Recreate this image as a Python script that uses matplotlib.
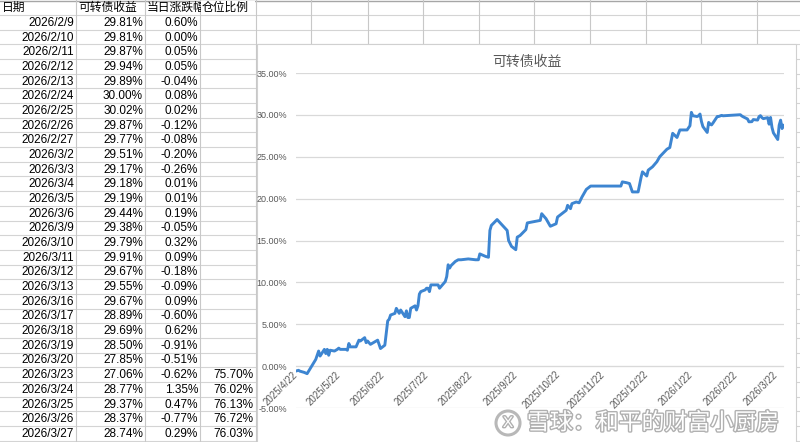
import matplotlib
matplotlib.use('Agg')
import matplotlib.pyplot as plt
import matplotlib.patheffects as pe
from matplotlib.patches import Rectangle, Ellipse
from matplotlib.ticker import FuncFormatter
import pandas as pd

W, H = 800, 442

# sheet rows (left table)
tbl_dates = ['2026/2/9', '2026/2/10', '2026/2/11', '2026/2/12', '2026/2/13', '2026/2/24',
             '2026/2/25', '2026/2/26', '2026/2/27', '2026/3/2', '2026/3/3', '2026/3/4',
             '2026/3/5', '2026/3/6', '2026/3/9', '2026/3/10', '2026/3/11', '2026/3/12',
             '2026/3/13', '2026/3/16', '2026/3/17', '2026/3/18', '2026/3/19', '2026/3/20',
             '2026/3/23', '2026/3/24', '2026/3/25', '2026/3/26', '2026/3/27']
tbl_ret = [29.81, 29.81, 29.87, 29.94, 29.89, 30.00, 30.02, 29.87, 29.77, 29.51, 29.17, 29.18,
           29.19, 29.44, 29.38, 29.79, 29.91, 29.67, 29.55, 29.67, 28.89, 29.69, 28.50, 27.85,
           27.06, 28.77, 29.37, 28.37, 28.74]
tbl_chg = [0.60, 0.00, 0.05, 0.05, -0.04, 0.08, 0.02, -0.12, -0.08, -0.20, -0.26, 0.01,
           0.01, 0.19, -0.05, 0.32, 0.09, -0.18, -0.09, 0.09, -0.60, 0.62, -0.91, -0.51,
           -0.62, 1.35, 0.47, -0.77, 0.29]
tbl_pos = [None] * 24 + [75.70, 76.02, 76.13, 76.72, 76.03]
headers = ['日期', '可转债收益', '当日涨跌幅', '仓位比例']

# earlier part of the curve
early_dates = [
    '2025-04-22', '2025-04-24', '2025-04-25', '2025-04-28', '2025-04-30', '2025-05-06',
    '2025-05-07', '2025-05-08', '2025-05-09', '2025-05-12', '2025-05-13', '2025-05-14',
    '2025-05-15', '2025-05-16', '2025-05-19', '2025-05-21', '2025-05-22', '2025-05-23',
    '2025-05-27', '2025-05-28', '2025-05-29', '2025-05-30', '2025-06-03', '2025-06-05',
    '2025-06-06', '2025-06-09', '2025-06-10', '2025-06-11', '2025-06-13', '2025-06-16',
    '2025-06-18', '2025-06-20', '2025-06-23', '2025-06-24', '2025-06-25', '2025-06-26',
    '2025-06-27', '2025-06-30', '2025-07-01', '2025-07-03', '2025-07-04', '2025-07-07',
    '2025-07-08', '2025-07-09', '2025-07-10', '2025-07-11', '2025-07-14', '2025-07-15',
    '2025-07-16', '2025-07-17', '2025-07-18', '2025-07-21', '2025-07-22', '2025-07-23',
    '2025-07-24', '2025-07-25', '2025-07-28', '2025-07-30', '2025-07-31', '2025-08-01',
    '2025-08-04', '2025-08-05', '2025-08-06', '2025-08-07', '2025-08-08', '2025-08-11',
    '2025-08-13', '2025-08-15', '2025-08-20', '2025-08-25', '2025-08-27', '2025-08-28',
    '2025-09-01', '2025-09-03', '2025-09-04', '2025-09-05', '2025-09-09', '2025-09-16',
    '2025-09-17', '2025-09-19', '2025-09-22', '2025-09-23', '2025-09-25', '2025-09-29',
    '2025-09-30', '2025-10-09', '2025-10-10', '2025-10-13', '2025-10-16', '2025-10-20',
    '2025-10-21', '2025-10-24', '2025-10-27', '2025-10-28', '2025-10-30', '2025-10-31',
    '2025-11-03', '2025-11-05', '2025-11-07', '2025-11-10', '2025-11-13', '2025-12-04',
    '2025-12-05', '2025-12-08', '2025-12-10', '2025-12-12', '2025-12-16', '2025-12-18',
    '2025-12-19', '2025-12-22', '2025-12-23', '2025-12-26', '2025-12-29', '2025-12-31',
    '2026-01-05', '2026-01-07', '2026-01-09', '2026-01-12', '2026-01-14', '2026-01-16',
    '2026-01-19', '2026-01-21', '2026-01-22', '2026-01-23', '2026-01-26', '2026-01-27',
    '2026-01-28', '2026-01-29', '2026-01-30', '2026-02-02', '2026-02-03', '2026-02-04',
    '2026-02-05', '2026-02-06']
early_vals = [
    -0.6, -0.5, -0.6, -0.75, -0.9, 0.8,
    1.3, 1.8, 1.2, 2.0, 1.5, 2.0,
    1.3, 1.9, 1.8, 2.0, 2.15, 2.0,
    2.0, 1.9, 2.7, 2.3, 2.3, 3.1,
    3.0, 3.4, 2.8, 3.0, 2.6, 2.9,
    3.1, 2.1, 2.5, 3.9, 5.4, 5.6,
    6.1, 6.3, 6.9, 6.3, 6.7, 5.9,
    6.6, 5.8, 5.8, 6.9, 7.2, 6.7,
    7.2, 8.6, 8.9, 9.1, 9.3, 9.3,
    8.9, 9.7, 9.7, 9.7, 9.3, 9.5,
    10.1, 10.7, 12.1, 11.7, 12.0, 12.5,
    12.7, 12.7, 12.8, 12.7, 12.7, 13.4,
    13.1, 13.0, 16.2, 16.8, 17.5, 16.2,
    15.0, 14.3, 13.9, 15.4, 15.6, 16.3,
    17.1, 17.4, 18.2, 17.6, 16.7, 17.0,
    17.8, 18.2, 18.6, 19.2, 18.8, 19.4,
    19.6, 19.5, 20.2, 21.1, 21.5, 21.5,
    22.0, 21.9, 21.8, 20.8, 20.8, 22.5,
    23.2, 22.7, 23.4, 23.8, 24.4, 25.0,
    25.9, 26.1, 27.8, 27.3, 28.2, 28.2,
    28.2, 28.7, 30.3, 29.9, 29.8, 29.9,
    30.1, 29.2, 28.6, 27.9, 29.1, 28.9,
    28.8, 29.03]

plt.rcParams['font.family'] = ['Liberation Sans', 'Noto Sans CJK SC', 'DejaVu Sans']

fig = plt.figure(figsize=(W / 100, H / 100), dpi=100)

# --- spreadsheet background ---
sh = fig.add_axes([0, 0, 1, 1])
sh.set_xlim(0, W)
sh.set_ylim(H, 0)
sh.axis('off')

row0, rh = 15.0, 14.68
n_rows = len(tbl_dates)
grid_c = '#d4d4d4'
for k in range(n_rows + 2):
    sh.axhline(row0 + k * rh, color=grid_c, lw=0.8, zorder=1)
sh.axhline(0.6, color='#a6a6a6', lw=1.0, zorder=1)
col_edges = [76, 145, 200, 255.7, 311.4, 367.5, 422.6, 478.8, 534.2, 589.6, 645.8, 700.9, 757]
for x in col_edges:
    sh.axvline(x, color='#c8c8c8', lw=0.8, zorder=1)

hy = row0 / 2 + 0.5
sh.text(2, hy, headers[0], ha='left', va='center', fontsize=8.5, zorder=2)
sh.text(78, hy, headers[1], ha='left', va='center', fontsize=8.5, zorder=2)
sh.text(147, hy, headers[2], ha='left', va='center', fontsize=8.5, zorder=2)
sh.add_patch(Rectangle((200.6, 1.2), 54.5, row0 - 1.8, facecolor='white', edgecolor='none', zorder=2.5))
sh.text(202, hy, headers[3], ha='left', va='center', fontsize=8.5, zorder=3)

for i in range(n_rows):
    y = row0 + i * rh + rh / 2 + 0.5
    sh.text(74, y, tbl_dates[i], ha='right', va='center', fontsize=8.5, zorder=2)
    sh.text(143, y, f'{tbl_ret[i]:.2f}%', ha='right', va='center', fontsize=8.5, zorder=2)
    sh.text(198, y, f'{tbl_chg[i]:.2f}%', ha='right', va='center', fontsize=8.5, zorder=2)
    if tbl_pos[i] is not None:
        sh.text(253, y, f'{tbl_pos[i]:.2f}%', ha='right', va='center', fontsize=8.5, zorder=2)

# chart object box
sh.add_patch(Rectangle((257, 44), 539, 402, facecolor='white', edgecolor='#d0d0d0', lw=0.8, zorder=4))
fig.text(526.5 / W, 1 - 62 / H, '可转债收益', ha='center', va='center', fontsize=10,
         color='#595959', family=['Noto Sans CJK SC', 'DejaVu Sans'])

# --- line chart ---
dates = pd.to_datetime(early_dates + [d.replace('/', '-') for d in tbl_dates])
vals = early_vals + tbl_ret

x0, x1, yb, yt = 295.6, 783.5, 408, 73
ax = fig.add_axes([x0 / W, 1 - yb / H, (x1 - x0) / W, (yb - yt) / H])
ax.set_facecolor('none')
ax.plot(dates, vals, color='#3d85d1', lw=2.1, solid_joinstyle='round', zorder=3)
ax.set_xlim(dates[0], dates[-1])
ax.set_ylim(-5, 35)
ax.set_yticks(range(-5, 40, 5))
ax.yaxis.set_major_formatter(FuncFormatter(lambda v, p: f'{v:.2f}%'))
ax.grid(axis='y', color='#d9d9d9', lw=0.9, zorder=0)
for s in ['top', 'right', 'left']:
    ax.spines[s].set_visible(False)
ax.spines['bottom'].set_position(('data', 0))
ax.spines['bottom'].set_color('#d9d9d9')

ticks = [pd.Timestamp(2025, 4, 22) + pd.DateOffset(months=i) for i in range(12)]
ax.set_xticks(ticks)
ax.set_xticklabels([f'{t.year}/{t.month}/{t.day}' for t in ticks])
ax.tick_params(axis='x', length=0, pad=5, labelsize=7, labelcolor='#595959')
ax.tick_params(axis='y', length=0, pad=6, labelsize=6.5, labelcolor='#595959')
for lbl in ax.get_xticklabels():
    lbl.set_rotation(45)
    lbl.set_ha('right')
    lbl.set_va('center')
    lbl.set_rotation_mode('anchor')

# --- watermark ---
stroke = [pe.withStroke(linewidth=2.0, foreground='#b0b0b0')]
fig.text(527 / W, 1 - 423 / H, '雪球：和平的财富小厨房', ha='left', va='center', fontsize=16.5,
         color='white', path_effects=stroke, family=['Noto Sans CJK SC', 'DejaVu Sans'], zorder=10)
fig.add_artist(Ellipse((508 / W, 1 - 423 / H), 24 / W, 24 / H, transform=fig.transFigure,
                       facecolor='none', edgecolor='#b8b8b8', lw=2.2, zorder=10))
fig.text(508 / W, 1 - 423 / H, 'X', ha='center', va='center', fontsize=11, color='white',
         path_effects=stroke, zorder=10)

fig.savefig('out.png', dpi=100)
